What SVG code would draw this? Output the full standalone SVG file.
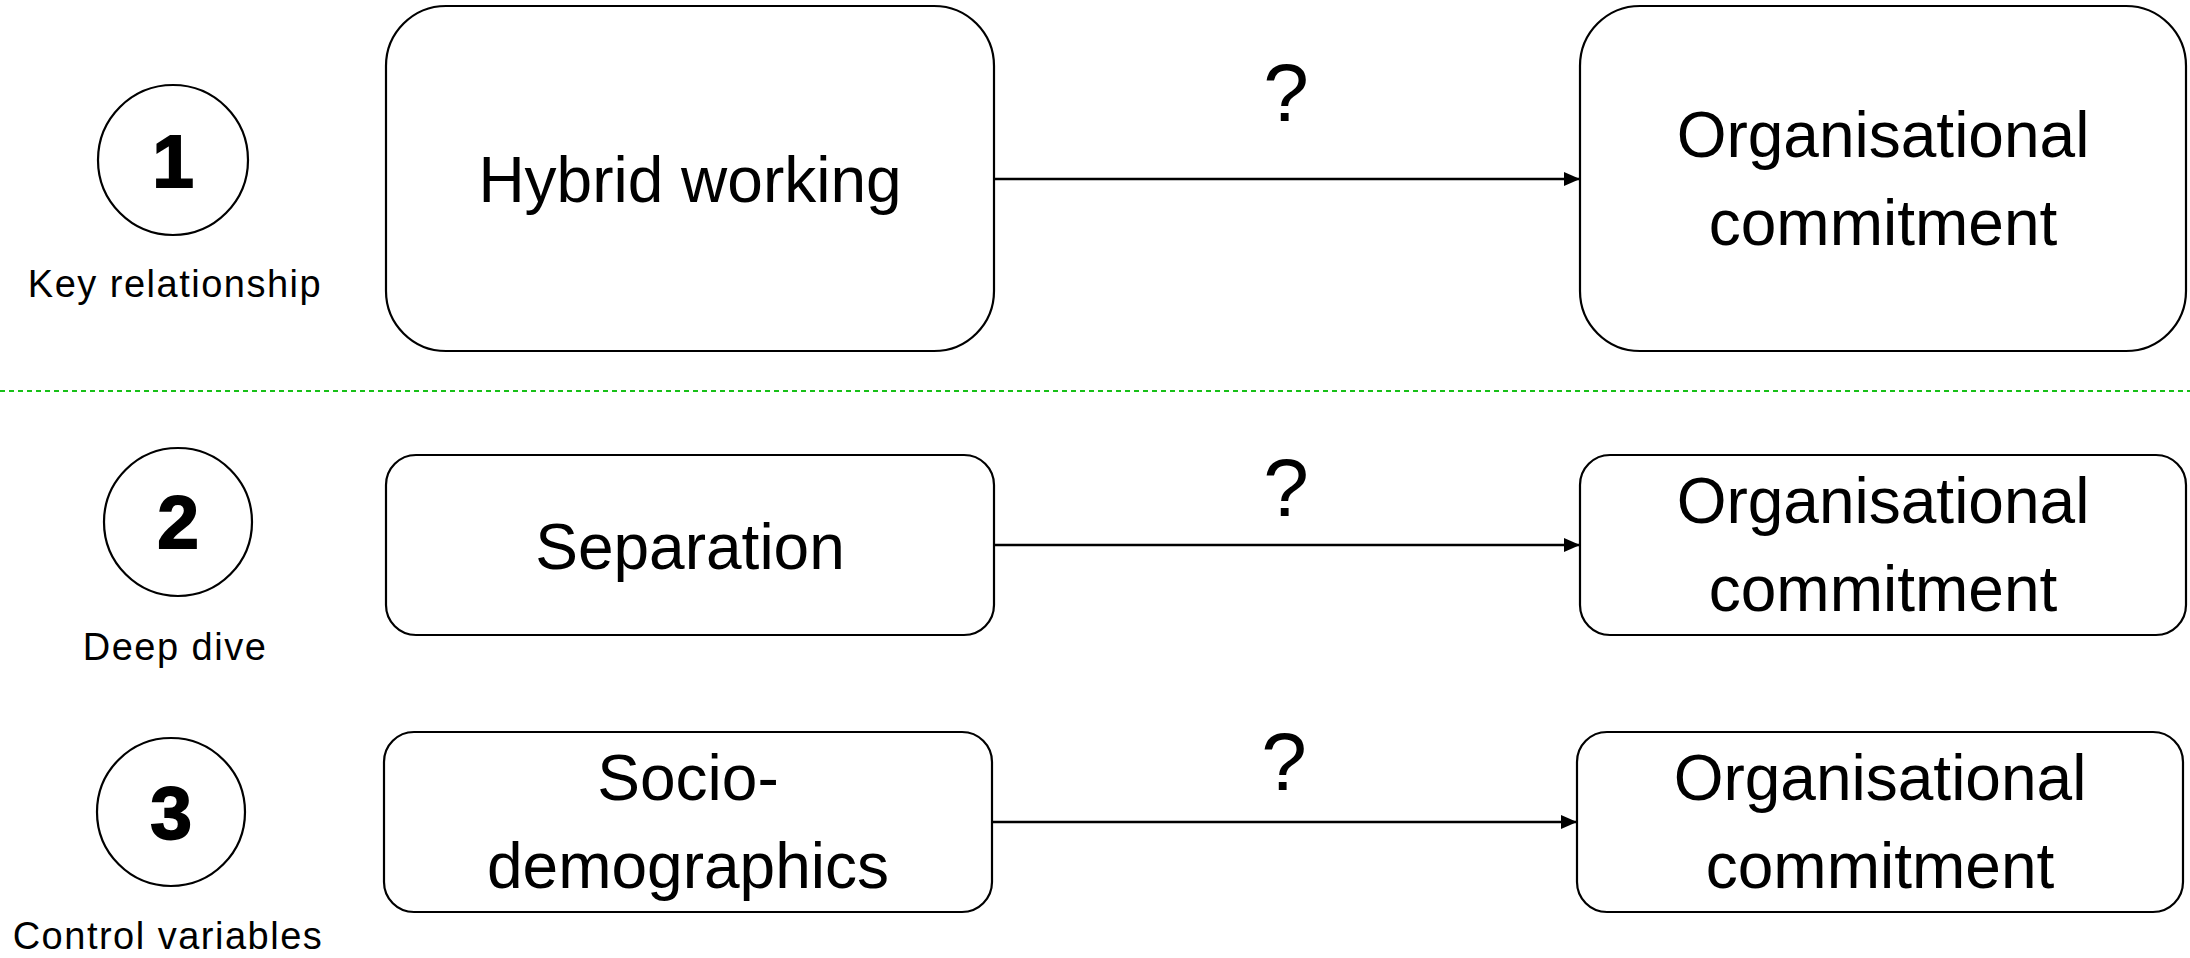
<svg xmlns="http://www.w3.org/2000/svg" width="2190" height="958" viewBox="0 0 2190 958">
  <style>
    .box { fill: #ffffff; stroke: #000000; stroke-width: 2.2; }
    .badge { fill: #ffffff; stroke: #000000; stroke-width: 2.2; }
    .num { font-family: "Liberation Sans", Arial, sans-serif; font-weight: bold; font-size: 75px; fill: #000; stroke: #000; stroke-width: 1.8; text-anchor: middle; }
    .cap { font-family: "Liberation Sans", Arial, sans-serif; font-size: 38px; letter-spacing: 1.5px; fill: #000; text-anchor: middle; }
    .lbl { font-family: "Liberation Sans", Arial, sans-serif; font-size: 64px; fill: #000; text-anchor: middle; }
    .q { font-family: "Liberation Sans", Arial, sans-serif; font-size: 82px; fill: #000; text-anchor: middle; }
    .link { fill: none; stroke: #000000; stroke-width: 2.4; marker-end: url(#arrow); }
    .divider { stroke: #18c018; stroke-width: 1.8; stroke-dasharray: 5 4; }
  </style>
  <defs>
    <marker id="arrow" markerUnits="userSpaceOnUse" markerWidth="18" markerHeight="16" refX="16" refY="7" orient="auto">
      <path d="M0,0 L16,7 L0,14 Z" fill="#000000"/>
    </marker>
  </defs>

  <rect width="2190" height="958" fill="#ffffff"/>

  <!-- separator between key relationship and the follow-up analyses -->
  <line class="divider" x1="0" y1="391" x2="2190" y2="391"/>

  <!-- row badges -->
  <g id="badge1">
    <circle class="badge" cx="173" cy="160" r="75"/>
    <text class="num" x="173" y="187">1</text>
    <text class="cap" x="175" y="297">Key relationship</text>
  </g>
  <g id="badge2">
    <circle class="badge" cx="178" cy="522" r="74"/>
    <text class="num" x="178" y="548">2</text>
    <text class="cap" x="175" y="660">Deep dive</text>
  </g>
  <g id="badge3">
    <circle class="badge" cx="171" cy="812" r="74"/>
    <text class="num" x="171" y="839">3</text>
    <text class="cap" x="168" y="949">Control variables</text>
  </g>

  <!-- row 1 -->
  <g id="hybrid">
    <rect class="box" x="386" y="6" width="608" height="345" rx="60" ry="60"/>
    <text class="lbl" x="690" y="202">Hybrid working</text>
  </g>
  <g id="commitment1">
    <rect class="box" x="1580" y="6" width="606" height="345" rx="60" ry="60"/>
    <text class="lbl" x="1883" y="157">Organisational</text>
    <text class="lbl" x="1883" y="245">commitment</text>
  </g>

  <!-- row 2 -->
  <g id="separation">
    <rect class="box" x="386" y="455" width="608" height="180" rx="30" ry="30"/>
    <text class="lbl" x="690" y="569">Separation</text>
  </g>
  <g id="commitment2">
    <rect class="box" x="1580" y="455" width="606" height="180" rx="30" ry="30"/>
    <text class="lbl" x="1883" y="523">Organisational</text>
    <text class="lbl" x="1883" y="611">commitment</text>
  </g>

  <!-- row 3 -->
  <g id="sociodemographics">
    <rect class="box" x="384" y="732" width="608" height="180" rx="30" ry="30"/>
    <text class="lbl" x="688" y="800">Socio-</text>
    <text class="lbl" x="688" y="888">demographics</text>
  </g>
  <g id="commitment3">
    <rect class="box" x="1577" y="732" width="606" height="180" rx="30" ry="30"/>
    <text class="lbl" x="1880" y="800">Organisational</text>
    <text class="lbl" x="1880" y="888">commitment</text>
  </g>

  <!-- connectors -->
  <g id="connectors">
    <line class="link" x1="994" y1="179" x2="1580" y2="179"/>
    <text class="q" x="1286" y="121">?</text>
    <line class="link" x1="994" y1="545" x2="1580" y2="545"/>
    <text class="q" x="1286" y="516">?</text>
    <line class="link" x1="992" y1="822" x2="1577" y2="822"/>
    <text class="q" x="1284" y="790">?</text>
  </g>
</svg>
